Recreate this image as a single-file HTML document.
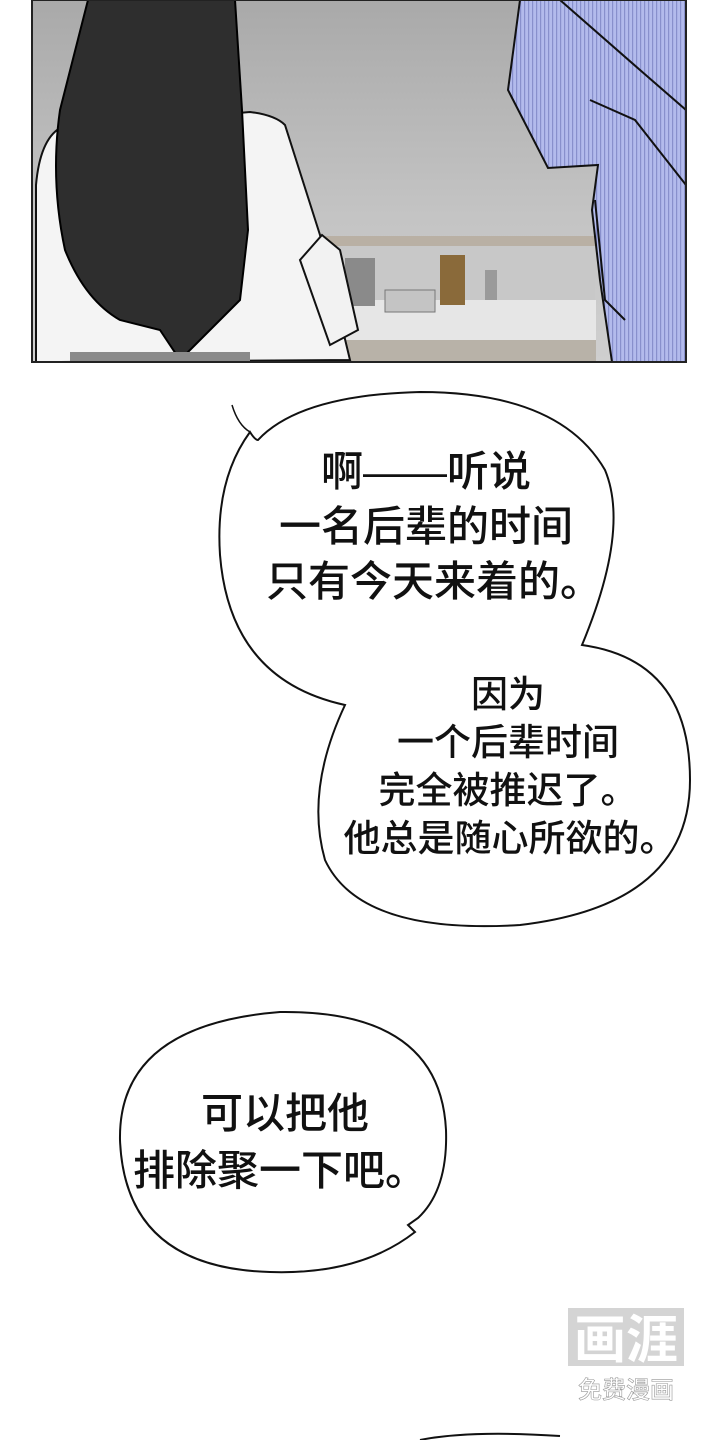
<!DOCTYPE html>
<html><head><meta charset="utf-8"><style>
html,body{margin:0;padding:0;background:#fff;}
svg{display:block}
text{font-family:"Liberation Sans","Noto Sans CJK SC",sans-serif;fill:#111;font-weight:500;}
</style></head><body>
<svg width="720" height="1440" viewBox="0 0 720 1440" xmlns="http://www.w3.org/2000/svg">
<defs>
<linearGradient id="bg" x1="0" y1="0" x2="0" y2="1">
<stop offset="0" stop-color="#a9a9a9"/><stop offset="0.6" stop-color="#c4c4c4"/><stop offset="1" stop-color="#cfcfcf"/>
</linearGradient>
<pattern id="str" width="4" height="10" patternUnits="userSpaceOnUse">
<rect width="4" height="10" fill="#b3bbec"/><rect width="1.2" height="10" fill="#8890cc"/>
</pattern>
<clipPath id="pc"><rect x="32" y="0" width="654" height="362"/></clipPath>
</defs>
<g clip-path="url(#pc)">
<rect x="32" y="0" width="654" height="362" fill="url(#bg)"/>
<rect x="250" y="236" width="345" height="10" fill="#b9b0a4"/>
<rect x="250" y="246" width="345" height="60" fill="#c8c8c8"/>
<rect x="36" y="300" width="560" height="40" fill="#e6e6e6"/>
<rect x="36" y="340" width="560" height="22" fill="#b8b2a8"/>
<rect x="255" y="285" width="80" height="18" rx="4" fill="#55606a"/>
<rect x="345" y="258" width="30" height="48" fill="#8a8a8a"/>
<rect x="385" y="290" width="50" height="22" fill="#c4c4c4" stroke="#777"/>
<rect x="440" y="255" width="25" height="50" fill="#8a6a3a"/>
<rect x="485" y="270" width="12" height="30" fill="#9a9a9a"/>
<!-- white shirt -->
<path d="M36 185 Q40 140 60 128 L250 112 Q275 115 285 125 L320 235 L350 360 L60 362 L36 362 Z" fill="#f4f4f4" stroke="#111" stroke-width="2"/>
<path d="M322 235 L340 250 L358 330 L330 345 L300 260 Z" fill="#f2f2f2" stroke="#111" stroke-width="2"/>
<!-- hair -->
<path d="M88 0 L235 0 L242 110 L248 230 L240 300 L180 360 L160 330 L120 320 Q85 300 65 250 Q50 180 60 110 Z" fill="#2e2e2e" stroke="#000" stroke-width="2"/>
<rect x="70" y="352" width="180" height="10" fill="#8a8a8a"/>
<!-- blue shirt -->
<path d="M520 0 L686 0 L686 362 L612 362 L600 280 L592 210 L598 165 L548 168 L508 90 Z" fill="url(#str)" stroke="#111" stroke-width="2"/>
<path d="M560 0 L640 70 L686 110 M590 100 L635 120 L686 185 M595 200 L605 300 L625 320" fill="none" stroke="#111" stroke-width="2"/>
</g>
<rect x="32" y="0" width="654" height="362" fill="none" stroke="#222" stroke-width="2"/>
<!-- bubble 1+2 -->
<path d="M250 432 Q255 440 258 440 Q300 395 420 392 Q560 392 605 470 Q630 530 582 645 Q690 660 690 780 Q690 905 520 925 Q360 935 325 860 Q305 790 345 705 Q230 680 220 555 Q215 480 250 432 Z" fill="#fff" stroke="#111" stroke-width="2"/>
<path d="M232 405 Q238 425 250 432" fill="none" stroke="#111" stroke-width="1.5"/>
<!-- bubble 3 -->
<path d="M120 1140 Q118 1025 280 1012 Q440 1010 446 1130 Q448 1190 418 1218 L408 1225 L415 1232 Q360 1275 270 1272 Q125 1268 120 1140 Z" fill="#fff" stroke="#111" stroke-width="2"/>
<g font-size="42" text-anchor="middle">
<text x="426" y="486">啊——听说</text>
<text x="426" y="541">一名后辈的时间</text>
<text x="434" y="596">只有今天来着的。</text>
</g>
<g font-size="37" text-anchor="middle">
<text x="508" y="707">因为</text>
<text x="508" y="755">一个后辈时间</text>
<text x="508" y="803">完全被推迟了。</text>
<text x="510" y="851">他总是随心所欲的。</text>
</g>
<g font-size="42" text-anchor="middle">
<text x="285" y="1128">可以把他</text>
<text x="280" y="1185">排除聚一下吧。</text>
</g>
<g>
<rect x="568" y="1308" width="116" height="58" fill="#b8b8b8" opacity="0.6"/>
<text x="626" y="1358" font-size="52" text-anchor="middle" style="fill:#fff;font-weight:bold">画涯</text>
<text x="626" y="1398" font-size="24" text-anchor="middle" style="fill:#fff;stroke:#999;stroke-width:0.6">免费漫画</text>
</g>
<path d="M420 1440 Q470 1430 560 1436" fill="none" stroke="#111" stroke-width="2"/>
</svg>
</body></html>
